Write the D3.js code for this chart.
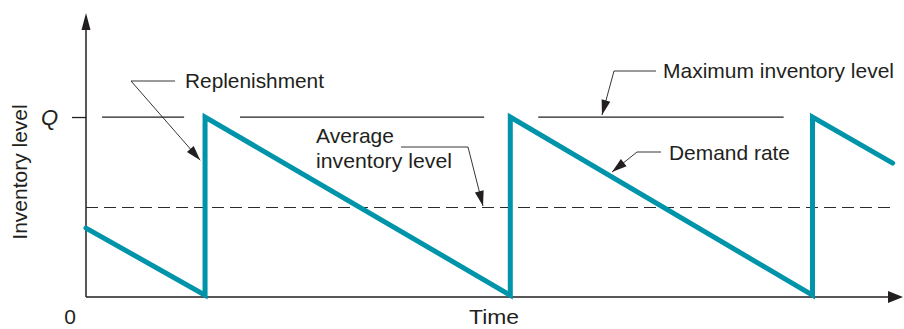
<!DOCTYPE html>
<html>
<head>
<meta charset="utf-8">
<script src="https://cdn.jsdelivr.net/npm/d3@7/dist/d3.min.js"></script>
<style>
  html, body { margin: 0; padding: 0; background: #fff; }
  svg { display: block; }
  text { font-family: "Liberation Sans", Arial, sans-serif; fill: #231f20; }
</style>
</head>
<body>
<svg id="chart" width="904" height="329"></svg>
<script>
// Sawtooth inventory profile: time in order cycles, level as a fraction of Q
const cycleTimes  = [0, 0.392, 0.392, 1.397, 1.397, 2.392, 2.392, 2.656];
const cycleLevels = [0.383, 0.01, 1, 0.01, 1, 0.01, 1, 0.744];

// Reference levels
const maxLevel = 1;     // Q
const avgLevel = 0.5;   // Q / 2

// Maximum-level line is drawn in pieces, broken around the peaks
const maxSegStart = [0.053, 0.507, 1.489];
const maxSegEnd   = [0.323, 1.311, 2.297];

const yTickValues = [1];
const yTickLabels = ["Q"];

const svg = d3.select("#chart");
const ink = "#231f20";
const teal = "#0094aa";

const x = d3.scaleLinear().domain([0, 2.69]).range([86, 903]);
const y = d3.scaleLinear().domain([0, 1.578]).range([297, 13]);

// Filled arrowhead with its tip at (tx, ty), pointing away from (fx, fy)
function arrowHead(g, fx, fy, tx, ty, len, half) {
  const a = Math.atan2(ty - fy, tx - fx);
  const bx = tx - len * Math.cos(a), by = ty - len * Math.sin(a);
  const px = -Math.sin(a) * half, py = Math.cos(a) * half;
  g.append("path")
    .attr("d", `M${tx},${ty}L${bx + px},${by + py}L${bx - px},${by - py}Z`)
    .attr("fill", ink);
}

// Average inventory level (dashed), kept on the pixel grid so it reads crisp
svg.append("line")
  .attr("x1", x(0)).attr("x2", x(2.66))
  .attr("y1", y(avgLevel) + 0.5).attr("y2", y(avgLevel) + 0.5)
  .attr("stroke", "#2a2a2a").attr("stroke-width", 1)
  .attr("shape-rendering", "crispEdges")
  .attr("stroke-dasharray", "12,6");

// Maximum inventory level
svg.append("g").selectAll("line")
  .data(d3.range(maxSegStart.length))
  .join("line")
  .attr("x1", i => x(maxSegStart[i])).attr("x2", i => x(maxSegEnd[i]))
  .attr("y1", y(maxLevel)).attr("y2", y(maxLevel))
  .attr("stroke", ink).attr("stroke-width", 1.3);

// Axes
const yAxis = d3.axisLeft(y)
  .tickValues(yTickValues)
  .tickFormat((d, i) => yTickLabels[i])
  .tickSize(14).tickSizeOuter(0).tickPadding(14);
const yAxisG = svg.append("g").attr("transform", `translate(${x(0)},0)`).call(yAxis);
yAxisG.select(".domain").remove();
yAxisG.selectAll(".tick line").attr("stroke", ink).attr("stroke-width", 1.3);
yAxisG.selectAll(".tick text")
  .attr("font-family", "Liberation Sans, Arial, sans-serif")
  .attr("font-size", 22).attr("font-style", "italic").attr("fill", ink);

const axes = svg.append("g");
axes.append("line")
  .attr("x1", x(0)).attr("x2", x(0)).attr("y1", y(0)).attr("y2", y(1.578) + 10)
  .attr("stroke", ink).attr("stroke-width", 1.5);
arrowHead(axes, x(0), y(0), x(0), y(1.578), 17, 4.5);
axes.append("line")
  .attr("x1", x(0)).attr("x2", x(2.69) - 10).attr("y1", y(0)).attr("y2", y(0))
  .attr("stroke", ink).attr("stroke-width", 1.5);
arrowHead(axes, x(0), y(0), x(2.69), y(0), 15, 6);

// Inventory sawtooth
const line = d3.line().x(i => x(cycleTimes[i])).y(i => y(cycleLevels[i]));
svg.append("path")
  .attr("d", line(d3.range(cycleTimes.length)))
  .attr("fill", "none").attr("stroke", teal).attr("stroke-width", 5)
  .attr("stroke-linejoin", "miter").attr("stroke-miterlimit", 10)
  .attr("stroke-linecap", "round");

// Annotations: text, elbow leader, arrow
const notes = svg.append("g");
function callout(lines, tx, leader, tip) {
  lines.forEach(l => {
    notes.append("text").attr("x", tx).attr("y", l.y)
      .attr("font-size", 21)
      .attr("textLength", l.w).attr("lengthAdjust", "spacingAndGlyphs")
      .text(l.t);
  });
  const pts = leader.concat([tip]);
  notes.append("path")
    .attr("d", d3.line()(pts))
    .attr("fill", "none").attr("stroke", ink).attr("stroke-width", 0.9);
  const from = leader[leader.length - 1];
  arrowHead(notes, from[0], from[1], tip[0], tip[1], 15, 4.5);
}

callout([{ t: "Replenishment", y: 88, w: 139 }], 185,
  [[175, 81], [131, 81]], [x(0.376), y(0.76)]);
callout([{ t: "Average", y: 143, w: 78 }, { t: "inventory level", y: 168, w: 136 }], 316,
  [[401, 147], [468, 147]], [483, y(avgLevel) - 1]);
callout([{ t: "Maximum inventory level", y: 78, w: 231 }], 663,
  [[656, 71], [614, 71]], [602, y(maxLevel) - 2]);
callout([{ t: "Demand rate", y: 160, w: 121 }], 669,
  [[661, 152], [637, 152]], [612, 172]);

// Axis titles
svg.append("text")
  .attr("transform", "translate(27,172) rotate(-90)")
  .attr("text-anchor", "middle").attr("font-size", 21)
  .text("Inventory level");
svg.append("text")
  .attr("x", 494).attr("y", 324).attr("text-anchor", "middle")
  .attr("font-size", 21).attr("textLength", 50).attr("lengthAdjust", "spacingAndGlyphs")
  .text("Time");
svg.append("text")
  .attr("x", 70).attr("y", 324).attr("text-anchor", "middle")
  .attr("font-size", 21).text("0");
</script>
</body>
</html>
